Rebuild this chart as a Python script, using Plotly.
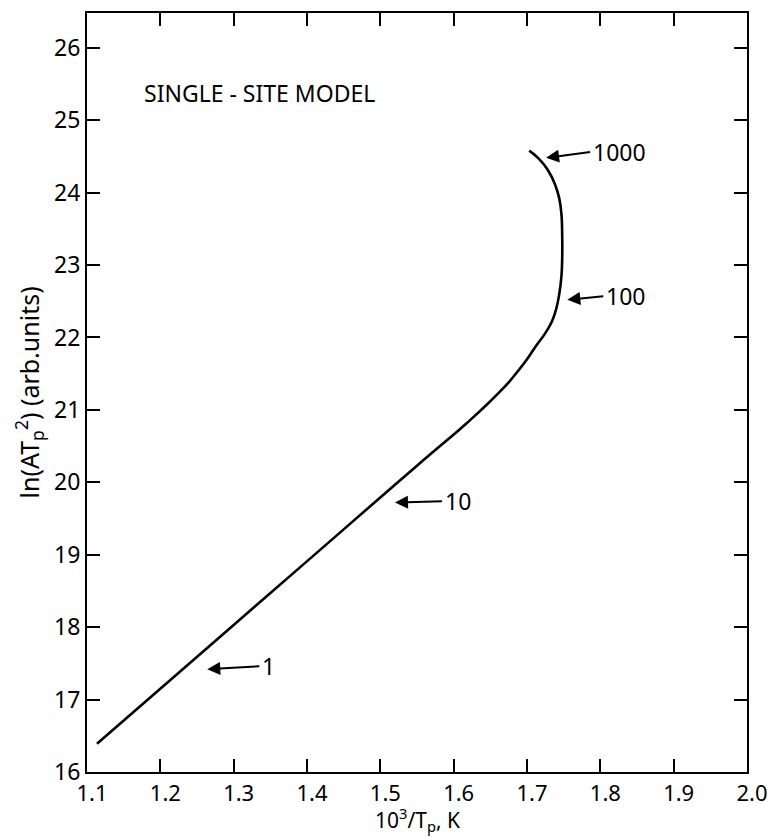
import plotly.graph_objects as go

# Curve
curve_x = [1.1136, 1.30, 1.45, 1.55, 1.60, 1.615, 1.63, 1.645, 1.66, 1.675, 1.688,
           1.70, 1.712, 1.725, 1.734, 1.740, 1.744, 1.747, 1.748, 1.748, 1.747,
           1.744, 1.738, 1.728, 1.716, 1.703]
curve_y = [16.39, 18.03, 19.35, 20.23, 20.66, 20.79, 20.93, 21.07, 21.22, 21.38, 21.54,
           21.70, 21.88, 22.06, 22.22, 22.40, 22.60, 22.85, 23.10, 23.40, 23.70,
           23.92, 24.12, 24.32, 24.47, 24.58]

# Arrow labels: text, head (x, y), tail (x, y)
label_text = ["1000", "100", "10", "1"]
head_x = [1.726, 1.755, 1.520, 1.264]
head_y = [24.48, 22.52, 19.72, 17.42]
tail_x = [1.786, 1.804, 1.584, 1.335]
tail_y = [24.56, 22.57, 19.74, 17.46]

x_ticks = [1.1, 1.2, 1.3, 1.4, 1.5, 1.6, 1.7, 1.8, 1.9, 2.0]
x_tick_text = ["1.1", "1.2", "1.3", "1.4", "1.5", "1.6", "1.7", "1.8", "1.9", "2.0"]
y_ticks = list(range(16, 27))

FONT = "Noto Sans"

fig = go.Figure()
fig.add_trace(go.Scatter(x=curve_x, y=curve_y, mode="lines",
                         line=dict(color="black", width=2.6, shape="spline", smoothing=1.2),
                         hoverinfo="skip", showlegend=False))

for t, hx, hy, tx, ty in zip(label_text, head_x, head_y, tail_x, tail_y):
    fig.add_annotation(x=hx, y=hy, ax=tx, ay=ty, xref="x", yref="y", axref="x", ayref="y",
                       text=t, showarrow=True, arrowhead=2, arrowsize=1.3,
                       arrowwidth=2, arrowcolor="black",
                       xanchor="left", yanchor="middle", borderpad=2,
                       font=dict(family=FONT, size=23, color="black"))

fig.add_annotation(x=1.175, y=25.37, xref="x", yref="y", text="SINGLE - SITE MODEL",
                   showarrow=False, xanchor="left", yanchor="middle",
                   font=dict(family=FONT, size=23, color="black"))

# Axis titles placed in paper space
fig.add_annotation(x=0.5, y=-0.0862, xref="paper", yref="paper", yanchor="bottom",
                   text="10<sup>3</sup>/T<sub>p</sub>, K", showarrow=False, borderpad=0,
                   font=dict(family=FONT, size=21, color="black"))
fig.add_annotation(x=-0.088, y=0.5, xref="paper", yref="paper", xanchor="center",
                   text="ln(AT<sub>p</sub><sup>2</sup>) (arb.units)", showarrow=False,
                   textangle=-90, font=dict(family=FONT, size=25, color="black"))

fig.update_xaxes(range=[1.1, 2.0], tickvals=x_ticks, ticktext=x_tick_text,
                 ticks="inside", ticklen=13, tickwidth=2, tickcolor="black",
                 showline=True, linecolor="black", linewidth=2, mirror="allticks",
                 showgrid=False, zeroline=False, ticklabelstandoff=1, ticklabelshift=5,
                 automargin=False,
                 tickfont=dict(family=FONT, size=22, color="black"))
fig.update_yaxes(range=[16, 26.48], tickvals=y_ticks,
                 ticks="inside", ticklen=13, tickwidth=2, tickcolor="black",
                 showline=True, linecolor="black", linewidth=2, mirror="allticks",
                 showgrid=False, zeroline=False, automargin=False,
                 tickfont=dict(family=FONT, size=23, color="black"))

fig.update_layout(width=770, height=837, margin=dict(l=87, r=23, t=13, b=65),
                  plot_bgcolor="white", paper_bgcolor="white")

fig.write_html("out.html")
